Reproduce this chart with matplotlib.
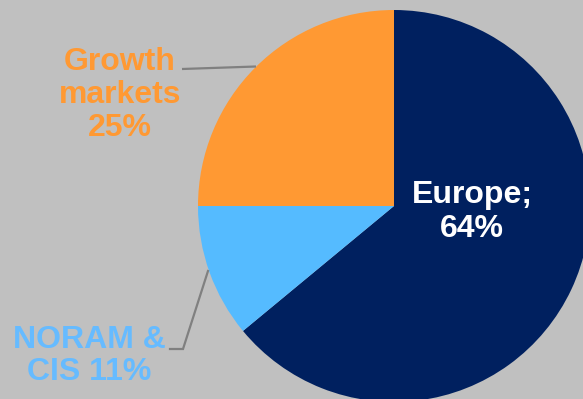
import matplotlib
matplotlib.use("Agg")
import matplotlib.pyplot as plt

# Revenue split by region (percent)
regions = ["Europe", "NORAM & CIS", "Growth markets"]
shares = [64, 11, 25]
colors = ["#00205F", "#55BBFF", "#FF9933"]

W, H = 583, 399
BG = "#C0C0C0"

plt.rcParams["font.family"] = ["Liberation Sans", "DejaVu Sans"]

fig = plt.figure(figsize=(W / 100, H / 100), dpi=100)
fig.set_facecolor(BG)
ax = fig.add_axes([0, 0, 1, 1])
ax.set_facecolor(BG)


def py(y):
    # pixel rows from the top -> data y
    return H - y


ax.pie(
    shares,
    colors=colors,
    startangle=90,
    counterclock=False,
    center=(394, py(206)),
    radius=196,
    wedgeprops=dict(linewidth=0, antialiased=True),
    frame=True,
)

ax.set_xlim(0, W)
ax.set_ylim(0, H)
ax.set_aspect("equal", adjustable="box")
ax.axis("off")

fs = 23
# Europe label inside the slice
ax.text(472, py(212), f"{regions[0]};\n{shares[0]}%", color="white",
        fontsize=fs, fontweight="bold", ha="center", va="center",
        linespacing=1.15)

# Growth markets label with leader line
ax.text(120, py(95), "Growth\nmarkets\n" + f"{shares[2]}%", color="#FF9933",
        fontsize=fs, fontweight="bold", ha="center", va="center",
        linespacing=1.12)
ax.plot([182, 256], [py(69), py(66.5)], color="#808080", lw=1.6,
        solid_capstyle="butt")

# NORAM & CIS label with leader line
ax.text(89, py(356), "NORAM &\n" + f"CIS {shares[1]}%", color="#66BBFF",
        fontsize=fs, fontweight="bold", ha="center", va="center",
        linespacing=1.12)
ax.plot([170, 183, 208], [py(349), py(349), py(271)], color="#808080",
        lw=1.6, solid_joinstyle="miter")

fig.savefig("out.png", dpi=100, facecolor=BG)
plt.close(fig)
